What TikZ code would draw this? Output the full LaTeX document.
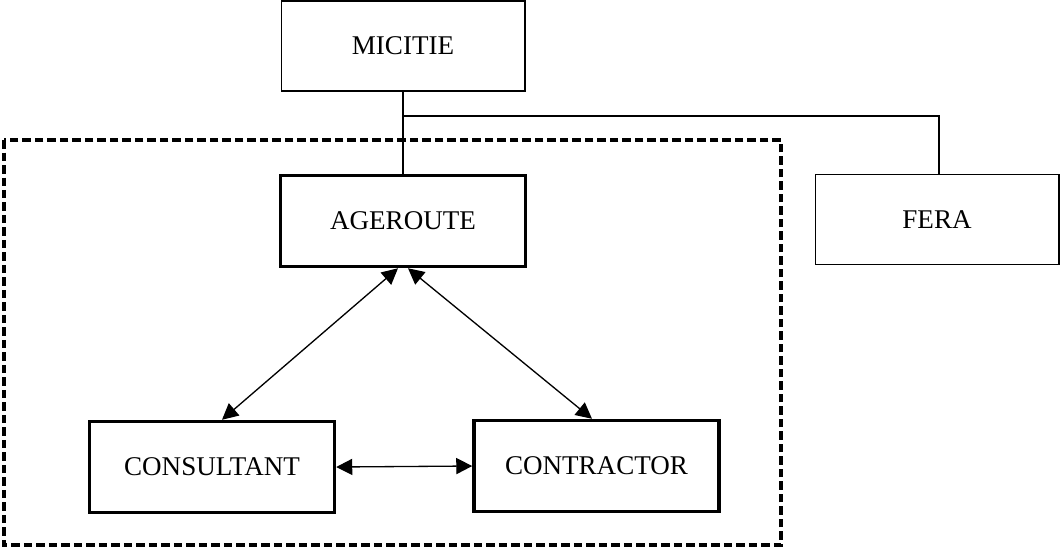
\documentclass[tikz,border=0pt]{standalone}
\usepackage{fontspec}
\setmainfont{Liberation Serif}
\usetikzlibrary{arrows.meta}

\begin{document}
\begin{tikzpicture}[x=0.02cm, y=-0.02cm,
    font=\fontsize{15.4}{18}\selectfont,
    thinbox/.style={draw, line width=0.6pt, minimum width=4.88cm, minimum height=1.8cm, inner sep=0pt},
    thickbox/.style={draw, line width=2pt, minimum width=4.9cm, minimum height=1.82cm, inner sep=0pt},
    link/.style={line width=0.75pt, {Triangle[length=0.32cm, width=0.32cm]}-{Triangle[length=0.32cm, width=0.32cm]}}]
    \useasboundingbox (0, 0) rectangle (1061, 549);

    % Dashed frame
    \draw[line width=2pt, dash pattern=on 0.17cm off 0.08cm] (4, 140) rectangle (781, 545);

    % Boxes
    \node[thinbox] (micitie) at (403, 46) {MICITIE};
    \node[thinbox] (fera) at (937, 219.5) {FERA};
    \node[thickbox] (ageroute) at (403, 221) {AGEROUTE};
    \node[thickbox] (consultant) at (212, 467) {CONSULTANT};
    \node[thickbox] (contractor) at (596.5, 466) {CONTRACTOR};

    % Hierarchy lines
    \draw[line width=0.6pt] (micitie.south) -- (ageroute.north);
    \coordinate (branch) at (403, 116);
    \draw[line width=0.6pt] (branch) -| ([xshift=0.04cm]fera.north);

    % Two-way links
    \draw[link] ([xshift=-0.1cm]ageroute.south) -- ([xshift=0.2cm]consultant.north);
    \draw[link] ([xshift=0.1cm]ageroute.south) -- ([xshift=-0.09cm]contractor.north);
    \draw[link] (consultant.east) -- (contractor.west);
\end{tikzpicture}
\end{document}
